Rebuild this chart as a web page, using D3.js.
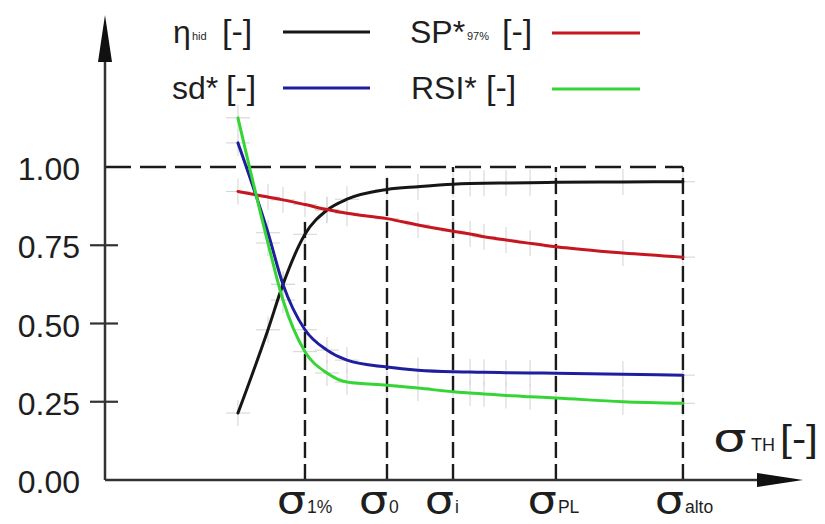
<!DOCTYPE html>
<html><head><meta charset="utf-8">
<script src="https://cdn.jsdelivr.net/npm/d3@7"></script>
<style>
body{margin:0;background:#fff}
text{font-family:"Liberation Sans",Arial,Helvetica,sans-serif;fill:#1e1e1e}
text.sig{font-family:"DejaVu Sans",sans-serif}
</style>
</head><body>
<svg id="c" width="825" height="524"></svg>
<script>
// ---- data ----
const sigmaX  = [19.05, 23.35, 25.5, 28.65, 31.8, 34.67, 40.4, 44.84, 49.86, 52.3, 54.3, 57.45, 60.9, 64.6, 74.2, 82.8];
const etaHid  = [0.214, 0.48, 0.625, 0.785, 0.862, 0.897, 0.928, 0.937, 0.945, 0.947, 0.948, 0.949, 0.950, 0.951, 0.952, 0.953];
const spStar  = [0.922, 0.904, 0.895, 0.880, 0.864, 0.852, 0.835, 0.815, 0.795, 0.786, 0.777, 0.767, 0.756, 0.745, 0.725, 0.712];
const sdStar  = [1.077, 0.79, 0.625, 0.48, 0.415, 0.383, 0.361, 0.351, 0.346, 0.345, 0.344, 0.343, 0.342, 0.341, 0.338, 0.335];
const rsiStar = [1.157, 0.757, 0.575, 0.41, 0.342, 0.313, 0.303, 0.294, 0.282, 0.278, 0.275, 0.270, 0.266, 0.262, 0.250, 0.245];

const yTickValues = [0, 0.25, 0.5, 0.75, 1.0];
const yTickLabels = ["0.00", "0.25", "0.50", "0.75", "1.00"];
const yTickMarks  = [0.25, 0.5, 0.75];

const markerSub = ["1%", "0", "i", "PL", "alto"];
const markerX   = [28.65, 40.4, 49.86, 64.6, 82.8];
const markerTop = [0.84, 0.98, 1.0, 1.0, 1.0];

const seriesNames = ["η", "sd*", "SP*", "RSI*"];
const seriesColors = ["#161616", "#1e1e9e", "#c6161f", "#35d535"];

// ---- scales ----
const svg = d3.select("#c");
const x = d3.scaleLinear().domain([0, 100]).range([105, 803]);
const y = d3.scaleLinear().domain([0, 1]).range([480, 167]);

const axisColor = "#333";

// faint grey crosses at data points
const allSeries = [etaHid, sdStar, spStar, rsiStar];
const gCross = svg.append("g").attr("stroke", "#d6d6d6").attr("stroke-width", 1.1);
allSeries.forEach(vals => {
  vals.forEach((v, i) => {
    const px = x(sigmaX[i]), py = y(v);
    gCross.append("line").attr("x1", px).attr("x2", px).attr("y1", py - 13).attr("y2", py + 13);
    gCross.append("line").attr("x1", px - 12).attr("x2", px + 12).attr("y1", py).attr("y2", py);
  });
});

// dashed reference lines
const gDash = svg.append("g").attr("stroke", "#1a1a1a").attr("stroke-width", 2.4).attr("fill", "none");
gDash.append("line")
  .attr("x1", x(0)).attr("x2", x(markerX[markerX.length - 1]))
  .attr("y1", y(1)).attr("y2", y(1))
  .attr("stroke-dasharray", "26,9");
markerX.forEach((mx, i) => {
  gDash.append("line")
    .attr("x1", x(mx)).attr("x2", x(mx))
    .attr("y1", y(0)).attr("y2", y(markerTop[i]))
    .attr("stroke-dasharray", "16,6");
});

// curves
const line = d3.line().x((d, i) => x(sigmaX[i])).y(d => y(d)).curve(d3.curveMonotoneX);
const curveData = [etaHid, spStar, sdStar, rsiStar];
const curveColors = [seriesColors[0], seriesColors[2], seriesColors[1], seriesColors[3]];
curveData.forEach((vals, k) => {
  svg.append("path").datum(vals)
    .attr("d", line)
    .attr("fill", "none")
    .attr("stroke", curveColors[k])
    .attr("stroke-width", 3)
    .attr("stroke-linecap", "round");
});

// axes
svg.append("line").attr("x1", x(0)).attr("x2", x(0)).attr("y1", y(0)).attr("y2", 50)
  .attr("stroke", axisColor).attr("stroke-width", 2.5);
svg.append("path").attr("d", `M${x(0)},15 L${x(0) - 7},62 L${x(0) + 7},62 Z`).attr("fill", "#111");
svg.append("line").attr("x1", x(0)).attr("x2", 770).attr("y1", y(0)).attr("y2", y(0))
  .attr("stroke", axisColor).attr("stroke-width", 2.5);
svg.append("path").attr("d", `M803,${y(0)} L757,${y(0) - 7} L757,${y(0) + 7} Z`).attr("fill", "#111");

// y tick marks and labels
yTickMarks.forEach(v => {
  svg.append("line").attr("x1", x(0) - 15).attr("x2", x(0) + 13).attr("y1", y(v)).attr("y2", y(v))
    .attr("stroke", axisColor).attr("stroke-width", 2.2);
});
yTickValues.forEach((v, i) => {
  svg.append("text").attr("x", 80).attr("y", y(v) + 13)
    .attr("text-anchor", "end").attr("font-size", 32)
    .text(yTickLabels[i]);
});

// x marker labels: wide sigma glyph ending at the line, subscript starting after it
markerX.forEach((mx, i) => {
  const px = x(mx);
  svg.append("text").attr("class", "sig")
    .attr("transform", `translate(${px + 1},513) scale(1.25,1)`)
    .attr("text-anchor", "end").attr("font-size", 37).text("σ");
  svg.append("text").attr("x", px + 2).attr("y", 513).attr("font-size", 17.5).text(markerSub[i]);
});

// x axis title
svg.append("text").attr("class", "sig").attr("transform", "translate(713,451) scale(1.4,1)").attr("font-size", 38).text("σ");
svg.append("text").attr("x", 751).attr("y", 451).attr("font-size", 18).text("TH");
svg.append("text").attr("x", 780).attr("y", 451).attr("font-size", 37)
  .attr("textLength", 38).attr("lengthAdjust", "spacingAndGlyphs").text("[-]");

// legend
function legendEntry(tx, ty, main, sub, subX, bracketX, lx1, lx2, ly, color) {
  svg.append("text").attr("x", tx).attr("y", ty).attr("font-size", 32).text(main);
  if (sub) svg.append("text").attr("x", subX).attr("y", ty - 3).attr("font-size", 11).text(sub);
  svg.append("text").attr("x", bracketX).attr("y", ty).attr("font-size", 34).text("[-]");
  svg.append("line").attr("x1", lx1).attr("x2", lx2).attr("y1", ly).attr("y2", ly)
    .attr("stroke", color).attr("stroke-width", 3.2);
}
legendEntry(173, 43, seriesNames[0], "hid", 192, 222, 283, 370, 32, seriesColors[0]);
legendEntry(172, 99, seriesNames[1], null, 0, 226, 283, 370, 88, seriesColors[1]);
legendEntry(410, 43, seriesNames[2], "97%", 467, 502, 552, 640, 33, seriesColors[2]);
legendEntry(411, 99, seriesNames[3], null, 0, 486, 552, 640, 89, seriesColors[3]);
</script>
</body></html>
